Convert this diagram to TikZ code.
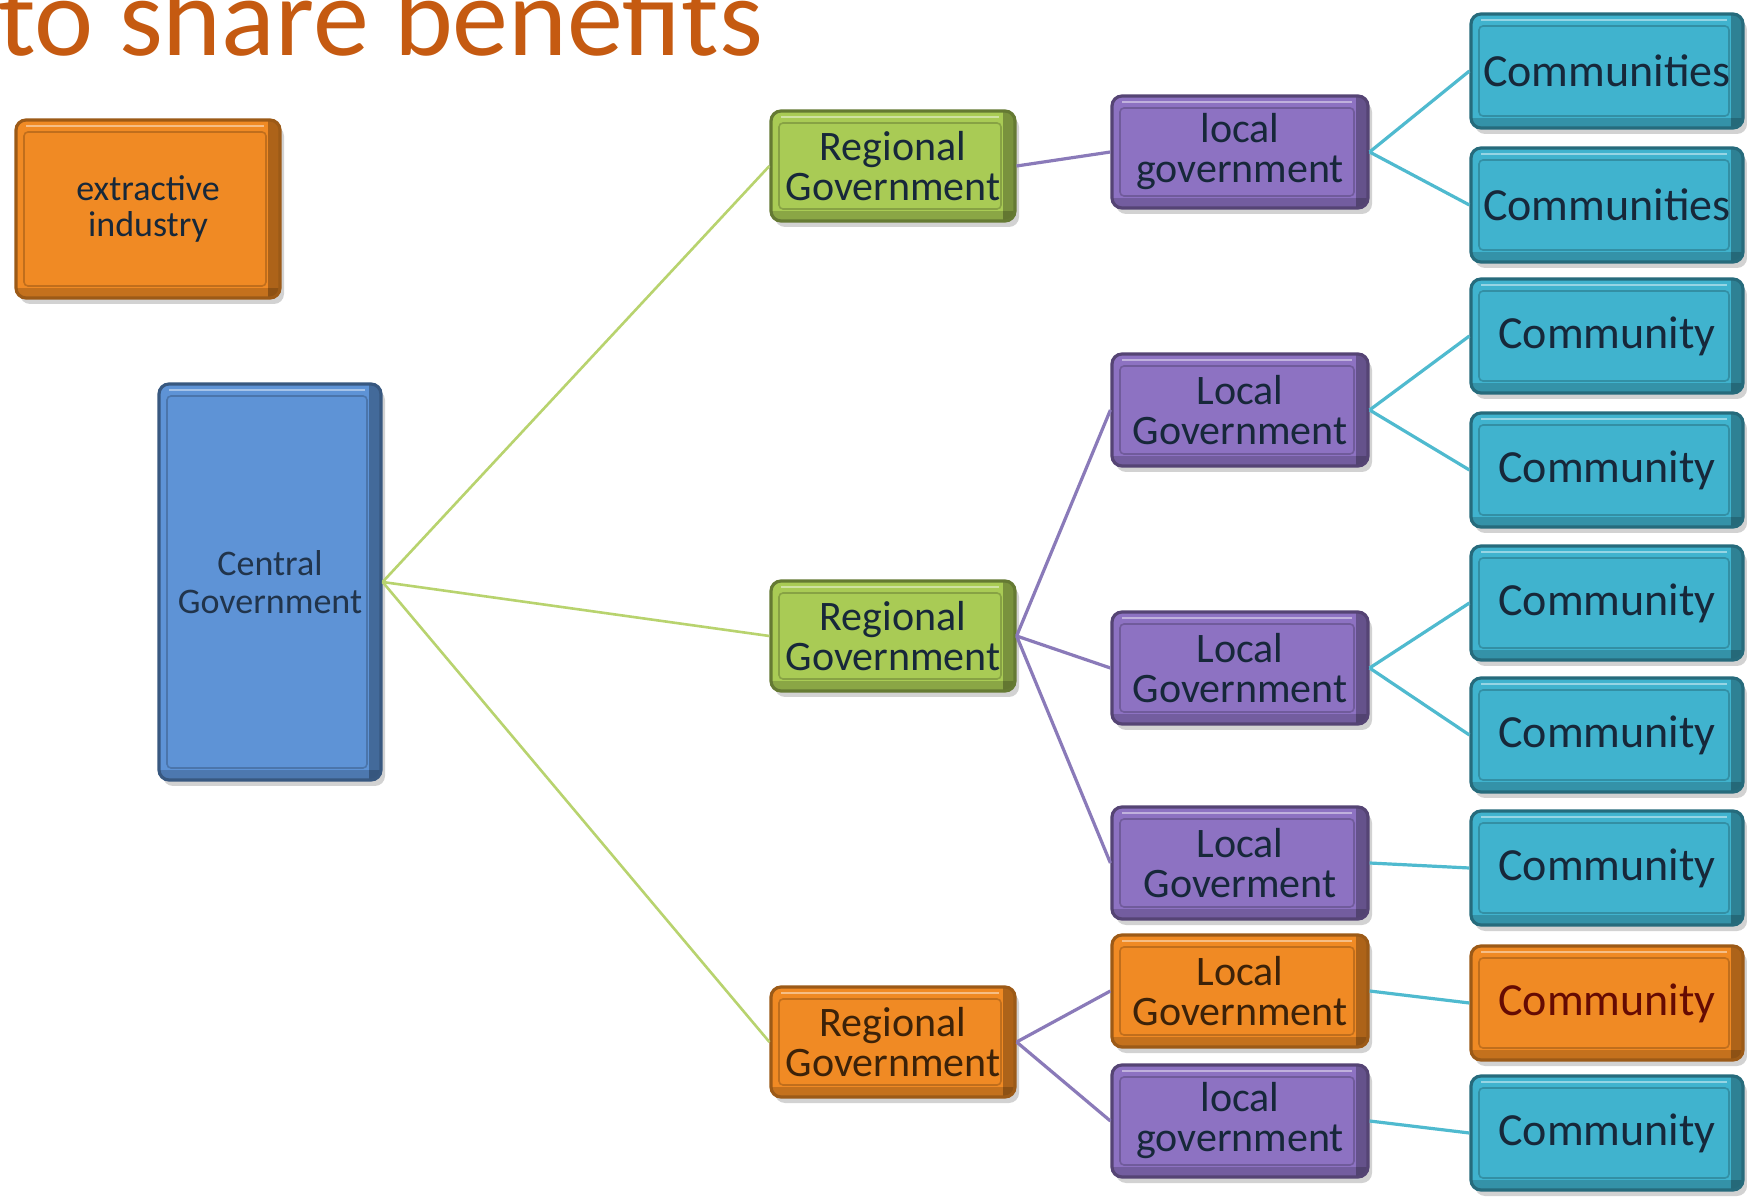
\documentclass[tikz,border=0pt]{standalone}
\usepackage{xcolor}
\usepackage{fontspec}
\setmainfont{Carlito}
\usepackage{tikz}
\usetikzlibrary{shadows}
\definecolor{titleorange}{HTML}{C55A11}
\definecolor{boxorange}{HTML}{F08A24}
\definecolor{boxblue}{HTML}{5E93D6}
\definecolor{boxgreen}{HTML}{A9CB55}
\definecolor{boxpurple}{HTML}{8D72C2}
\definecolor{boxteal}{HTML}{40B3CE}
\definecolor{ink}{HTML}{17283A}
\definecolor{linegreen}{HTML}{B8D36E}
\definecolor{linepurple}{HTML}{8A7AB9}
\definecolor{lineteal}{HTML}{4FBACF}
\tikzstyle{bevel}=[rounded corners=5pt, line width=1.6pt, inner sep=0pt, align=center, text=ink,
  drop shadow={opacity=0.35, shadow xshift=2pt, shadow yshift=-3pt},
  path picture={
    \fill[black, opacity=0.28, sharp corners] ([xshift=-6pt]path picture bounding box.north east) rectangle (path picture bounding box.south east);
    \fill[black, opacity=0.18, sharp corners] (path picture bounding box.south west) rectangle ([yshift=5pt]path picture bounding box.south east);
    \draw[white, opacity=0.45, line width=1.2pt] ([shift={(5pt,-3pt)}]path picture bounding box.north west) -- ([shift={(-8pt,-3pt)}]path picture bounding box.north east);
    \draw[black, opacity=0.2, line width=0.8pt, rounded corners=2pt] ([shift={(4pt,-6pt)}]path picture bounding box.north west) rectangle ([shift={(-7pt,6pt)}]path picture bounding box.south east);
  }]
\tikzstyle{orangebox}=[bevel, fill=boxorange, draw=boxorange!65!black]
\tikzstyle{bluebox}=[bevel, fill=boxblue, draw=boxblue!60!black]
\tikzstyle{greenbox}=[bevel, fill=boxgreen, draw=boxgreen!60!black]
\tikzstyle{purplebox}=[bevel, fill=boxpurple, draw=boxpurple!60!black]
\tikzstyle{tealbox}=[bevel, fill=boxteal, draw=boxteal!60!black]
\tikzstyle{regsize}=[minimum width=122pt, minimum height=55pt, font=\fontsize{21}{20}\selectfont]
\tikzstyle{locsize}=[minimum width=128pt, minimum height=56pt, font=\fontsize{21}{20}\selectfont]
\tikzstyle{comsize}=[minimum width=136pt, minimum height=57pt, font=\fontsize{23}{22}\selectfont]
\tikzstyle{greenline}=[linegreen, line width=1.3pt]
\tikzstyle{purpleline}=[linepurple, line width=1.6pt]
\tikzstyle{tealline}=[lineteal, line width=1.6pt]

\begin{document}
\begin{tikzpicture}[x=0.5pt, y=-0.5pt]
\clip (0,0) rectangle (1747,1197);
\fill[white] (0,0) rectangle (1747,1197);
\node[anchor=base west, inner sep=0pt, text=titleorange, font=\fontsize{56}{56}\selectfont] (title) at (-2,56) {to share benefits};
% left column
\node[orangebox, minimum width=132pt, minimum height=89pt, font=\fontsize{18}{18}\selectfont] (ext) at (148,209) {extractive\\industry};
\node[bluebox, minimum width=111pt, minimum height=198pt, text=boxblue!35!black, font=\fontsize{18}{19}\selectfont] (cg) at (270,582) {Central\\Government};
% regional
\node[greenbox, regsize] (rg1) at (893,166) {Regional\\Government};
\node[greenbox, regsize] (rg2) at (893,636) {Regional\\Government};
\node[orangebox, regsize, text=boxorange!25!black] (rg3) at (893,1042) {Regional\\Government};
% local
\node[purplebox, locsize] (lg1) at (1240,152) {local\\government};
\node[purplebox, locsize] (lg2) at (1240,410) {Local\\Government};
\node[purplebox, locsize] (lg3) at (1240,668) {Local\\Government};
\node[purplebox, locsize] (lg4) at (1240,863) {Local\\Goverment};
\node[orangebox, locsize, text=boxorange!25!black] (lg5) at (1240,991) {Local\\Government};
\node[purplebox, locsize] (lg6) at (1240,1121) {local\\government};
% communities
\node[tealbox, comsize] (c1) at (1607,71) {Communities};
\node[tealbox, comsize] (c2) at (1607,205) {Communities};
\node[tealbox, comsize] (c3) at (1607,336) {Community};
\node[tealbox, comsize] (c4) at (1607,470) {Community};
\node[tealbox, comsize] (c5) at (1607,603) {Community};
\node[tealbox, comsize] (c6) at (1607,735) {Community};
\node[tealbox, comsize] (c7) at (1607,868) {Community};
\node[orangebox, comsize, text=boxorange!20!red!40!black] (c8) at (1607,1003) {Community};
\node[tealbox, comsize] (c9) at (1607,1133) {Community};
% links
\begin{scope}[on background layer/.style={}]
\draw[greenline] (cg.east) -- (rg1.west);
\draw[greenline] (cg.east) -- (rg2.west);
\draw[greenline] (cg.east) -- (rg3.west);
\draw[purpleline] (rg1.east) -- (lg1.west);
\draw[purpleline] (rg2.east) -- (lg2.west);
\draw[purpleline] (rg2.east) -- (lg3.west);
\draw[purpleline] (rg2.east) -- (lg4.west);
\draw[purpleline] (rg3.east) -- (lg5.west);
\draw[purpleline] (rg3.east) -- (lg6.west);
\draw[tealline] (lg1.east) -- (c1.west);
\draw[tealline] (lg1.east) -- (c2.west);
\draw[tealline] (lg2.east) -- (c3.west);
\draw[tealline] (lg2.east) -- (c4.west);
\draw[tealline] (lg3.east) -- (c5.west);
\draw[tealline] (lg3.east) -- (c6.west);
\draw[tealline] (lg4.east) -- (c7.west);
\draw[tealline] (lg5.east) -- (c8.west);
\draw[tealline] (lg6.east) -- (c9.west);
\end{scope}
\end{tikzpicture}
\end{document}
